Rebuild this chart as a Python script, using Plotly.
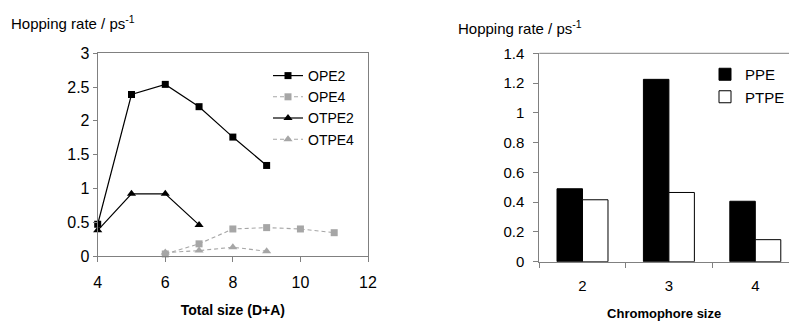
import plotly.graph_objects as go

# ---- data ----
ope2_x = [4, 5, 6, 7, 8, 9]
ope2_y = [0.47, 2.39, 2.54, 2.21, 1.76, 1.34]
ope4_x = [6, 7, 8, 9, 10, 11]
ope4_y = [0.03, 0.18, 0.40, 0.42, 0.40, 0.345]
otpe2_x = [4, 5, 6, 7]
otpe2_y = [0.38, 0.92, 0.92, 0.46]
otpe4_x = [6, 7, 8, 9]
otpe4_y = [0.05, 0.08, 0.13, 0.07]
left_xticks = [4, 6, 8, 10, 12]
left_yticks = [0, 0.5, 1, 1.5, 2, 2.5, 3]

chromophore = ["2", "3", "4"]
ppe = [0.49, 1.225, 0.406]
ptpe = [0.416, 0.465, 0.148]
right_yticks = [0, 0.2, 0.4, 0.6, 0.8, 1, 1.2, 1.4]

FONT = "Liberation Sans, Arial, sans-serif"
GRAY = "#a6a6a6"
AX = "#808080"
DASH = "4px,3px"
W, H = 789, 321

fig = go.Figure()

fig.add_trace(go.Scatter(x=ope2_x, y=ope2_y, name="OPE2", mode="lines+markers",
                         line=dict(color="black", width=1.2),
                         marker=dict(symbol="square", size=7, color="black"),
                         cliponaxis=False, xaxis="x", yaxis="y", legend="legend"))
fig.add_trace(go.Scatter(x=ope4_x, y=ope4_y, name="OPE4", mode="lines+markers",
                         line=dict(color=GRAY, width=1.1, dash=DASH),
                         marker=dict(symbol="square", size=7, color=GRAY),
                         cliponaxis=False, xaxis="x", yaxis="y", legend="legend"))
fig.add_trace(go.Scatter(x=otpe2_x, y=otpe2_y, name="OTPE2", mode="lines+markers",
                         line=dict(color="black", width=1.2),
                         marker=dict(symbol="triangle-up", size=8, color="black"),
                         cliponaxis=False, xaxis="x", yaxis="y", legend="legend"))
fig.add_trace(go.Scatter(x=otpe4_x, y=otpe4_y, name="OTPE4", mode="lines+markers",
                         line=dict(color=GRAY, width=1.1, dash=DASH),
                         marker=dict(symbol="triangle-up", size=8, color=GRAY),
                         cliponaxis=False, xaxis="x", yaxis="y", legend="legend"))

fig.add_trace(go.Bar(x=chromophore, y=ppe, name="PPE",
                     marker=dict(color="black", line=dict(color="black", width=1)),
                     xaxis="x2", yaxis="y2", legend="legend2"))
fig.add_trace(go.Bar(x=chromophore, y=ptpe, name="PTPE",
                     marker=dict(color="white", line=dict(color="black", width=1)),
                     xaxis="x2", yaxis="y2", legend="legend2"))

fig.update_layout(
    width=W, height=H,
    margin=dict(l=0, r=0, t=0, b=0, autoexpand=False),
    paper_bgcolor="white", plot_bgcolor="white",
    font=dict(family=FONT, color="black"),
    barmode="group", bargap=0.41, bargroupgap=0,
    xaxis=dict(domain=[97.7 / W, 368 / W], range=[4, 12], tickvals=left_xticks,
               showgrid=False, zeroline=False, showline=True, linecolor=AX, mirror=True,
               ticks="outside", ticklen=5, tickcolor=AX, tickfont=dict(size=16),
               ticklabelstandoff=7, automargin=False,
               title=dict(text="<b>Total size (D+A)</b>", font=dict(size=14), standoff=14),
               anchor="y"),
    yaxis=dict(domain=[1 - 256 / H, 1 - 53.3 / H], range=[0, 3], tickvals=left_yticks,
               showgrid=False, zeroline=False, showline=True, linecolor=AX, mirror=True,
               ticks="outside", ticklen=4, tickcolor=AX, tickfont=dict(size=16),
               automargin=False, anchor="x"),
    xaxis2=dict(domain=[539.3 / W, 1.0], range=[-0.5, 2.39], type="category",
                showgrid=False, zeroline=False, showline=True, linecolor=AX, mirror=False,
                ticks="outside", tickson="boundaries", ticklen=5, tickcolor=AX,
                tickfont=dict(size=15), ticklabelstandoff=10, automargin=False,
                title=dict(text="<b>Chromophore size</b>", font=dict(size=13), standoff=16),
                anchor="y2"),
    yaxis2=dict(domain=[1 - 261.7 / H, 1 - 53.3 / H], range=[0, 1.4],
                tickvals=right_yticks,
                showgrid=False, zeroline=False, showline=True, linecolor=AX,
                ticks="outside", ticklen=5, tickcolor=AX, tickfont=dict(size=15),
                ticklabelstandoff=6, automargin=False, anchor="x2"),
    legend=dict(x=268 / W, y=1 - 60 / H, xanchor="left", yanchor="top",
                bgcolor="rgba(0,0,0,0)", font=dict(size=14), itemwidth=30,
                tracegroupgap=0),
    legend2=dict(x=705 / W, y=1 - 58 / H, xanchor="left", yanchor="top",
                 bgcolor="rgba(0,0,0,0)", font=dict(size=15), itemwidth=30),
    showlegend=True,
)

# top line of right panel frame
fig.update_layout(shapes=[dict(type="line", xref="x2 domain", yref="y2 domain",
                               x0=0, x1=1, y0=1, y1=1, line=dict(color=AX, width=1))])

fig.add_annotation(text="Hopping rate / ps<sup>-1</sup>", xref="paper", yref="paper",
                   x=9 / W, y=1 - 22 / H, xanchor="left", yanchor="middle",
                   showarrow=False, font=dict(size=15))
fig.add_annotation(text="Hopping rate / ps<sup>-1</sup>", xref="paper", yref="paper",
                   x=456 / W, y=1 - 27 / H, xanchor="left", yanchor="middle",
                   showarrow=False, font=dict(size=15))

fig.write_html("out.html", config={"displayModeBar": False},
               post_script="document.body.style.margin='0px';document.body.style.overflow='hidden';")
